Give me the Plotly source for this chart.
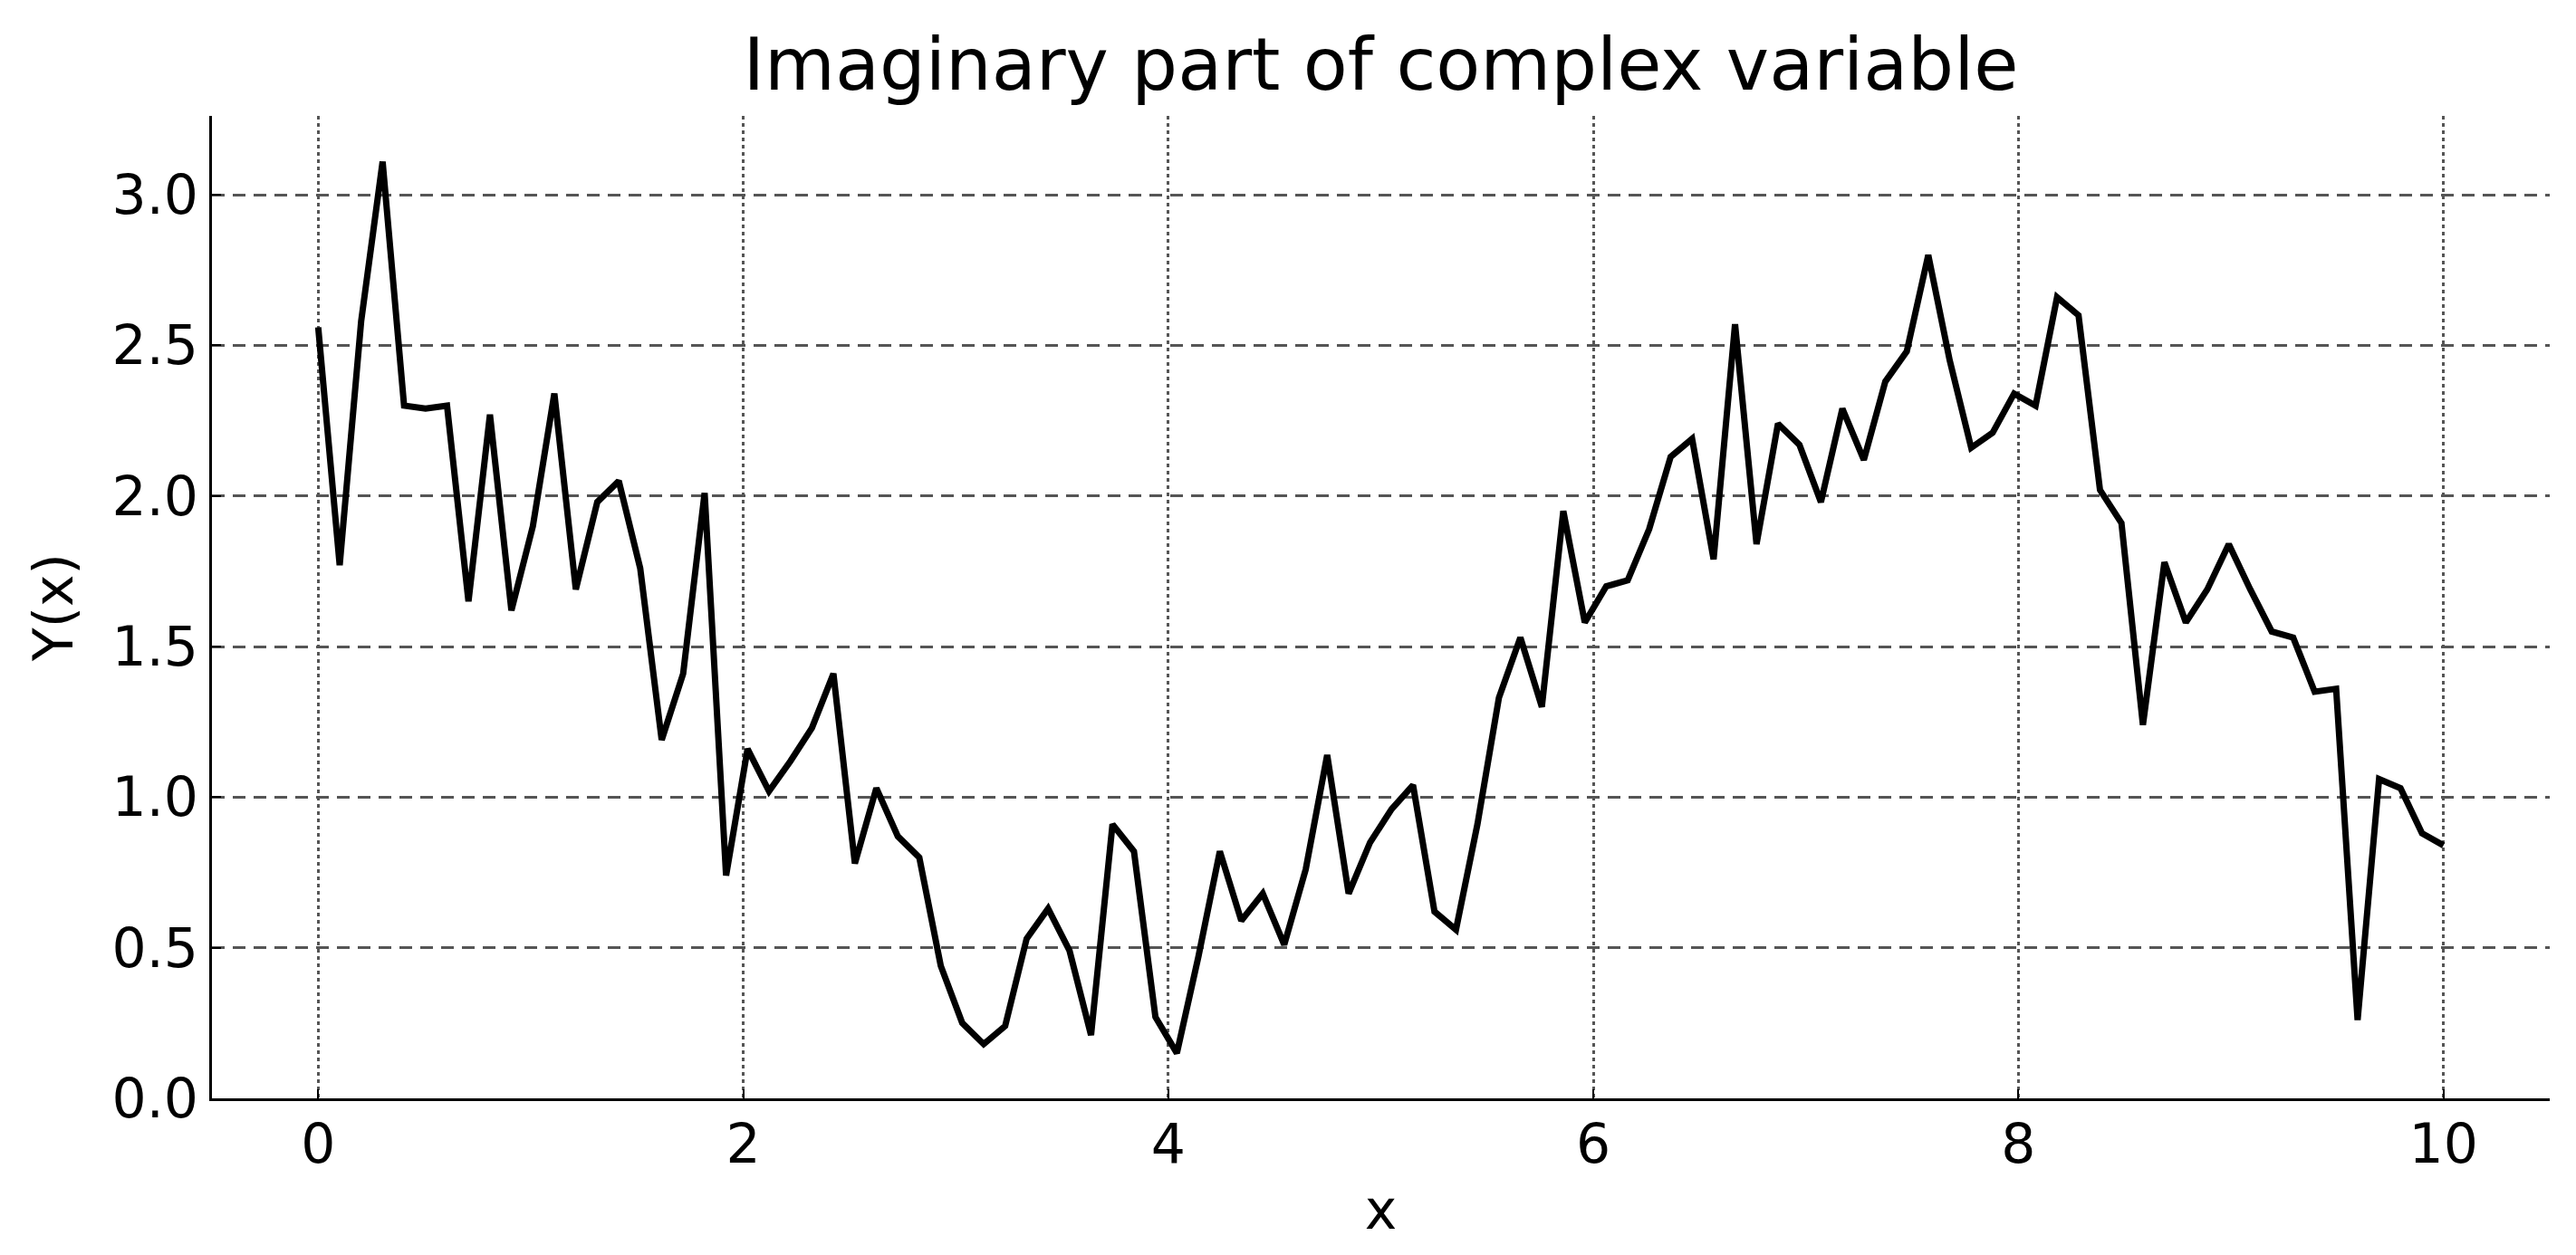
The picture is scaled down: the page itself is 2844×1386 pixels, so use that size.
import numpy as np
import plotly.graph_objects as go

# x sampled uniformly on [0, 10] with 100 points
x_values = np.linspace(0, 10, 100)

y_values = [
    2.56, 1.77, 2.58, 3.11, 2.30, 2.29, 2.30, 1.65, 2.27, 1.62,
    1.90, 2.34, 1.69, 1.98, 2.05, 1.76, 1.19, 1.41, 2.01, 0.74,
    1.16, 1.02, 1.12, 1.23, 1.41, 0.78, 1.03, 0.87, 0.80, 0.44,
    0.25, 0.18, 0.24, 0.53, 0.63, 0.49, 0.21, 0.91, 0.82, 0.27,
    0.15, 0.47, 0.82, 0.59, 0.68, 0.51, 0.76, 1.14, 0.68, 0.85,
    0.96, 1.04, 0.62, 0.56, 0.91, 1.33, 1.53, 1.30, 1.95, 1.58,
    1.70, 1.72, 1.89, 2.13, 2.19, 1.79, 2.57, 1.84, 2.24, 2.17,
    1.98, 2.29, 2.12, 2.38, 2.48, 2.80, 2.45, 2.16, 2.21, 2.34,
    2.30, 2.66, 2.60, 2.02, 1.91, 1.24, 1.78, 1.58, 1.69, 1.84,
    1.69, 1.55, 1.53, 1.35, 1.36, 0.26, 1.06, 1.03, 0.88, 0.84,
]

x_ticks = [0, 2, 4, 6, 8, 10]
y_ticks = [0.0, 0.5, 1.0, 1.5, 2.0, 2.5, 3.0]
y_tick_labels = ["0.0", "0.5", "1.0", "1.5", "2.0", "2.5", "3.0"]

FONT = "DejaVu Sans"
W, H = 2844, 1386
L, R, T, B = 226, 37, 120, 181

fig = go.Figure()
fig.add_trace(go.Scatter(
    x=x_values, y=y_values, mode="lines",
    line=dict(color="black", width=7),
    showlegend=False,
))

fig.update_layout(
    width=W, height=H,
    paper_bgcolor="white", plot_bgcolor="white",
    margin=dict(l=L, r=R, t=T, b=B, autoexpand=False),
    font=dict(family=FONT, size=60, color="black"),
    title=dict(
        text="Imaginary part of complex variable",
        font=dict(family=FONT, size=80, color="black"),
        x=(L + W - R) / 2 / W, xanchor="center", xref="container",
        y=1 - 63 / H, yanchor="middle", yref="container",
    ),
)

fig.update_xaxes(
    range=[-0.5, 10.5],
    tickvals=x_ticks, ticktext=[str(v) for v in x_ticks],
    ticks="inside", ticklen=10, tickwidth=2, tickcolor="black",
    ticklabelstandoff=-4,
    showline=True, linecolor="black", linewidth=3,
    showgrid=True, gridcolor="#555555", gridwidth=2.5, griddash="4px,4px",
    zeroline=False,
    tickfont=dict(family=FONT, size=60, color="black"),
    title=dict(text="x", font=dict(family=FONT, size=60, color="black"), standoff=18),
)

fig.update_yaxes(
    range=[0, 3.262],
    tickvals=y_ticks, ticktext=y_tick_labels,
    ticks="inside", ticklen=10, tickwidth=2, tickcolor="black",
    showline=True, linecolor="black", linewidth=3,
    showgrid=True, gridcolor="#555555", gridwidth=2.5, griddash="14px,9px",
    zeroline=False,
    tickfont=dict(family=FONT, size=60, color="black"),
    title=dict(text="Y(x)", font=dict(family=FONT, size=60, color="black"), standoff=24),
)

fig.write_html("out.html")
